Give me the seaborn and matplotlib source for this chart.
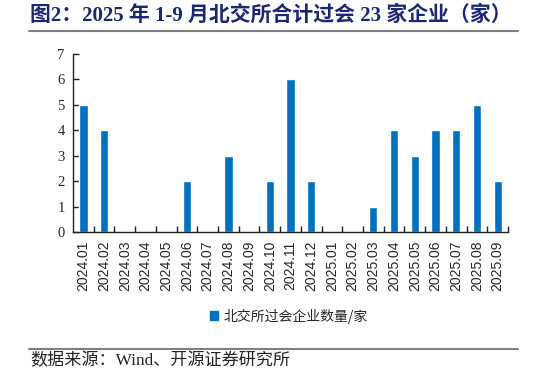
import pandas as pd
import matplotlib.pyplot as plt
import seaborn as sns
from matplotlib.lines import Line2D
from matplotlib.patches import Patch

months = ["2024.01", "2024.02", "2024.03", "2024.04", "2024.05", "2024.06",
          "2024.07", "2024.08", "2024.09", "2024.10", "2024.11", "2024.12",
          "2025.01", "2025.02", "2025.03", "2025.04", "2025.05", "2025.06",
          "2025.07", "2025.08", "2025.09"]
counts = [5, 4, 0, 0, 0, 2, 0, 3, 0, 2, 6, 2, 0, 0, 1, 4, 3, 4, 4, 5, 2]
series_name = "北交所过会企业数量/家"
title = "图2：2025 年 1-9 月北交所合计过会 23 家企业（家）"
source = "数据来源：Wind、开源证券研究所"

sns.set_style("white")
plt.rcParams['font.family'] = ['Liberation Serif', 'Noto Sans CJK SC']

df = pd.DataFrame({"月份": months, "数量": counts})

fig = plt.figure(figsize=(5.46, 3.74), dpi=100)
ax = fig.add_axes([73/546, 1-232/374, 435/546, 178/374])

bar_color = "#0070C0"
sns.barplot(data=df, x="月份", y="数量", color=bar_color, width=0.4,
            saturation=1, ax=ax)

ax.set_xlim(-0.5, len(months) - 0.5)
ax.set_ylim(0, 7)
ax.set_yticks(range(0, 8))
ax.set_xlabel("")
ax.set_ylabel("")
for s in ["top", "right"]:
    ax.spines[s].set_visible(False)
for s in ["left", "bottom"]:
    ax.spines[s].set_color("#222222")
    ax.spines[s].set_linewidth(1.0)

ax.tick_params(axis="y", direction="in", length=4, width=1, color="#222222",
               labelsize=10.5, pad=6, left=True)
ax.tick_params(axis="x", which="major", length=0, pad=6)
ax.set_xticks([i + 0.5 for i in range(len(months))], minor=True)
ax.tick_params(axis="x", which="minor", direction="in", length=4, width=1,
               color="#222222", bottom=True)
for lab in ax.get_yticklabels():
    lab.set_family(["Liberation Serif"])
ax.set_xticks(range(len(months)))
ax.set_xticklabels(months, rotation=90, family=["Liberation Sans"], fontsize=10)

handles = [Patch(facecolor=bar_color, edgecolor=bar_color)]
leg = fig.legend(handles, [series_name], loc="center", bbox_to_anchor=(289/546, 1-316/374),
                 frameon=False, prop={"family": ["Noto Sans CJK SC"], "size": 10},
                 handlelength=0.6, handleheight=0.6, handletextpad=0.4)

fig.text(30/546, 1-15/374, title, fontsize=15, fontweight="bold",
         color="#1B2770", va="center", ha="left",
         family=["Liberation Serif", "Noto Sans CJK SC"])
fig.add_artist(Line2D([29/546, 518/546], [1-31/374, 1-31/374], color="#7f7f7f",
                      lw=1.5, transform=fig.transFigure))
fig.add_artist(Line2D([29/546, 518/546], [1-349/374, 1-349/374], color="#7f7f7f",
                      lw=1.5, transform=fig.transFigure))
fig.text(30/546, 1-361/374, source, fontsize=12.3, color="#222222", va="center",
         ha="left", family=["Liberation Serif", "Noto Sans CJK SC"])

fig.savefig("out.png", dpi=100)
